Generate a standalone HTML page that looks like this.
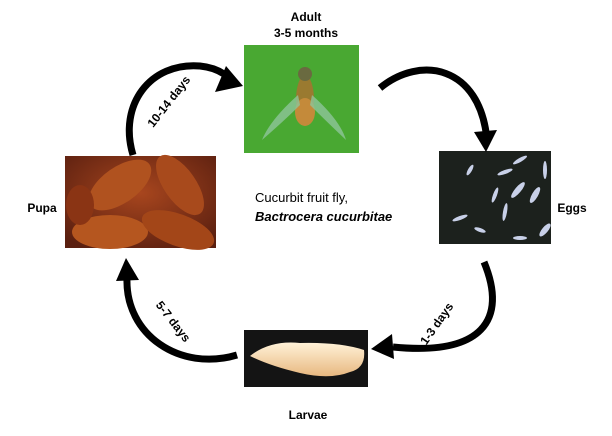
<!DOCTYPE html>
<html><head><style>
body{margin:0;width:612px;height:431px;background:#fff;overflow:hidden;font-family:"Liberation Sans",sans-serif;}
</style></head><body>
<svg width="612" height="431" xmlns="http://www.w3.org/2000/svg">
<defs>
<radialGradient id="pg" cx="50%" cy="40%" r="70%"><stop offset="0" stop-color="#a8461e"/><stop offset="1" stop-color="#5a1f10"/></radialGradient>
<linearGradient id="lg" x1="0" y1="0" x2="0" y2="1"><stop offset="0" stop-color="#fff2d8"/><stop offset="1" stop-color="#e8b880"/></linearGradient>
</defs>
<rect x="244" y="45" width="115" height="108" fill="#4fae36"/>
<rect x="244" y="45" width="115" height="108" fill="#3a9a2a" opacity="0.3"/>
<ellipse cx="305" cy="100" rx="9" ry="25" fill="#9a7a30"/>
<ellipse cx="305" cy="112" rx="10" ry="14" fill="#c48a3a"/>
<circle cx="305" cy="74" r="7" fill="#6a6a40"/>
<path d="M298 95 Q270 120 262 140 Q285 120 300 105Z" fill="#8fc49a" opacity="0.8"/>
<path d="M312 95 Q340 120 346 140 Q325 120 310 105Z" fill="#8fc49a" opacity="0.8"/>
<rect x="65" y="156" width="151" height="92" fill="url(#pg)"/>
<ellipse cx="120" cy="185" rx="36" ry="18" transform="rotate(-35 120 185)" fill="#b0521f"/>
<ellipse cx="180" cy="185" rx="35" ry="16" transform="rotate(55 180 185)" fill="#a84a1c"/>
<ellipse cx="110" cy="232" rx="38" ry="17" fill="#b5561f"/>
<ellipse cx="178" cy="230" rx="38" ry="16" transform="rotate(20 178 230)" fill="#a34618"/>
<ellipse cx="80" cy="205" rx="14" ry="20" fill="#8a3414"/>
<rect x="439" y="151" width="112" height="93" fill="#1c211d"/>
<g fill="#c8d0e8">
<ellipse cx="460" cy="218" rx="8" ry="2" transform="rotate(-20 460 218)"/>
<ellipse cx="505" cy="172" rx="8" ry="2" transform="rotate(-20 505 172)"/>
<ellipse cx="520" cy="160" rx="8" ry="2" transform="rotate(-30 520 160)"/>
<ellipse cx="545" cy="170" rx="2" ry="9"/>
<ellipse cx="518" cy="190" rx="3" ry="10" transform="rotate(40 518 190)"/>
<ellipse cx="495" cy="195" rx="2" ry="8" transform="rotate(20 495 195)"/>
<ellipse cx="535" cy="195" rx="3" ry="9" transform="rotate(30 535 195)"/>
<ellipse cx="505" cy="212" rx="2" ry="9" transform="rotate(10 505 212)"/>
<ellipse cx="480" cy="230" rx="6" ry="2" transform="rotate(20 480 230)"/>
<ellipse cx="520" cy="238" rx="7" ry="2"/>
<ellipse cx="470" cy="170" rx="2" ry="6" transform="rotate(30 470 170)"/>
<ellipse cx="545" cy="230" rx="3" ry="8" transform="rotate(40 545 230)"/>
</g>
<rect x="244" y="330" width="124" height="57" fill="#141414"/>
<path d="M250 356 Q270 340 300 343 Q340 342 364 350 Q366 368 350 372 Q330 380 300 373 Q270 366 250 356Z" fill="url(#lg)"/>
<g fill="none" stroke="#000">
<path d="M133 155 C118 105 150 62 200 66 C210 67 218 70 224 74" stroke-width="7"/>
<path d="M380 88 C420 55 480 65 487 140" stroke-width="7"/>
<path d="M484 262 C508 320 482 356 393 347" stroke-width="7"/>
<path d="M237 355 C180 372 125 335 127 278" stroke-width="7"/>
</g>
<g fill="#000">
<polygon points="243,86 215,92 226,66"/>
<polygon points="486,152 474,132 497,130"/>
<polygon points="371,349 392,334 394,359"/>
<polygon points="126,258 116,281 139,280"/>
</g>
<g font-weight="bold" font-size="12" fill="#000" text-anchor="middle">
<text x="306" y="21">Adult</text>
<text x="306" y="37">3-5 months</text>
<text x="42" y="212">Pupa</text>
<text x="572" y="212">Eggs</text>
<text x="308" y="419">Larvae</text>
<text transform="translate(172,104) rotate(-52)">10-14 days</text>
<text transform="translate(440,326) rotate(-55)">1-3 days</text>
<text transform="translate(170,324) rotate(52)">5-7 days</text>
</g>
<text x="255" y="202" font-size="13" fill="#000">Cucurbit fruit fly,</text>
<text x="255" y="221" font-size="13" font-weight="bold" font-style="italic" fill="#000">Bactrocera cucurbitae</text>
</svg>
</body></html>
